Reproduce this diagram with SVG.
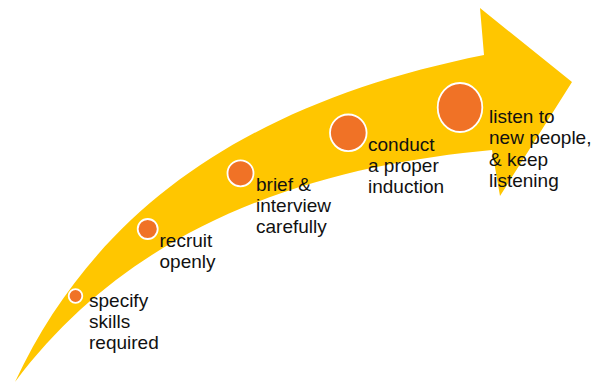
<svg xmlns="http://www.w3.org/2000/svg" width="604" height="383" viewBox="0 0 604 383">
  <style>
    .band { fill: #FFC600; }
    .dot { fill: #F07226; stroke: #FFFFFF; stroke-width: 1.8; }
    .label { font-family: "Liberation Sans", Arial, sans-serif; font-size: 19px; fill: #111111; }
  </style>
  <rect width="604" height="383" fill="#FFFFFF"/>

  <!-- curved rising arrow -->
  <g id="connectors">
    <path class="band" d="M15,382 C100,200 260,100 484,55 L480,8 L572,82 L500,196 L492,150 C330,165 140,215 15,382 Z"/>
  </g>

  <g id="step-specify">
    <circle class="dot" cx="75.5" cy="296" r="6.8"/>
    <text class="label" x="89" y="306.5">specify<tspan x="89" dy="21">skills</tspan><tspan x="89" dy="21">required</tspan></text>
  </g>

  <g id="step-recruit">
    <circle class="dot" cx="147.7" cy="229" r="10"/>
    <text class="label" x="159.5" y="246.5">recruit<tspan x="159.5" dy="21">openly</tspan></text>
  </g>

  <g id="step-brief">
    <circle class="dot" cx="240.5" cy="173.3" r="13"/>
    <text class="label" x="256" y="191">brief &amp;<tspan x="256" dy="21">interview</tspan><tspan x="256" dy="21">carefully</tspan></text>
  </g>

  <g id="step-conduct">
    <circle class="dot" cx="348.3" cy="132.8" r="18.3"/>
    <text class="label" x="368" y="150.5">conduct<tspan x="368" dy="21">a proper</tspan><tspan x="368" dy="21">induction</tspan></text>
  </g>

  <g id="step-listen">
    <ellipse class="dot" cx="460" cy="107.5" rx="22.3" ry="24.5"/>
    <text class="label" x="489" y="123">listen to<tspan x="489" dy="21.3">new people,</tspan><tspan x="489" dy="21.3">&amp; keep</tspan><tspan x="489" dy="21.3">listening</tspan></text>
  </g>
</svg>
